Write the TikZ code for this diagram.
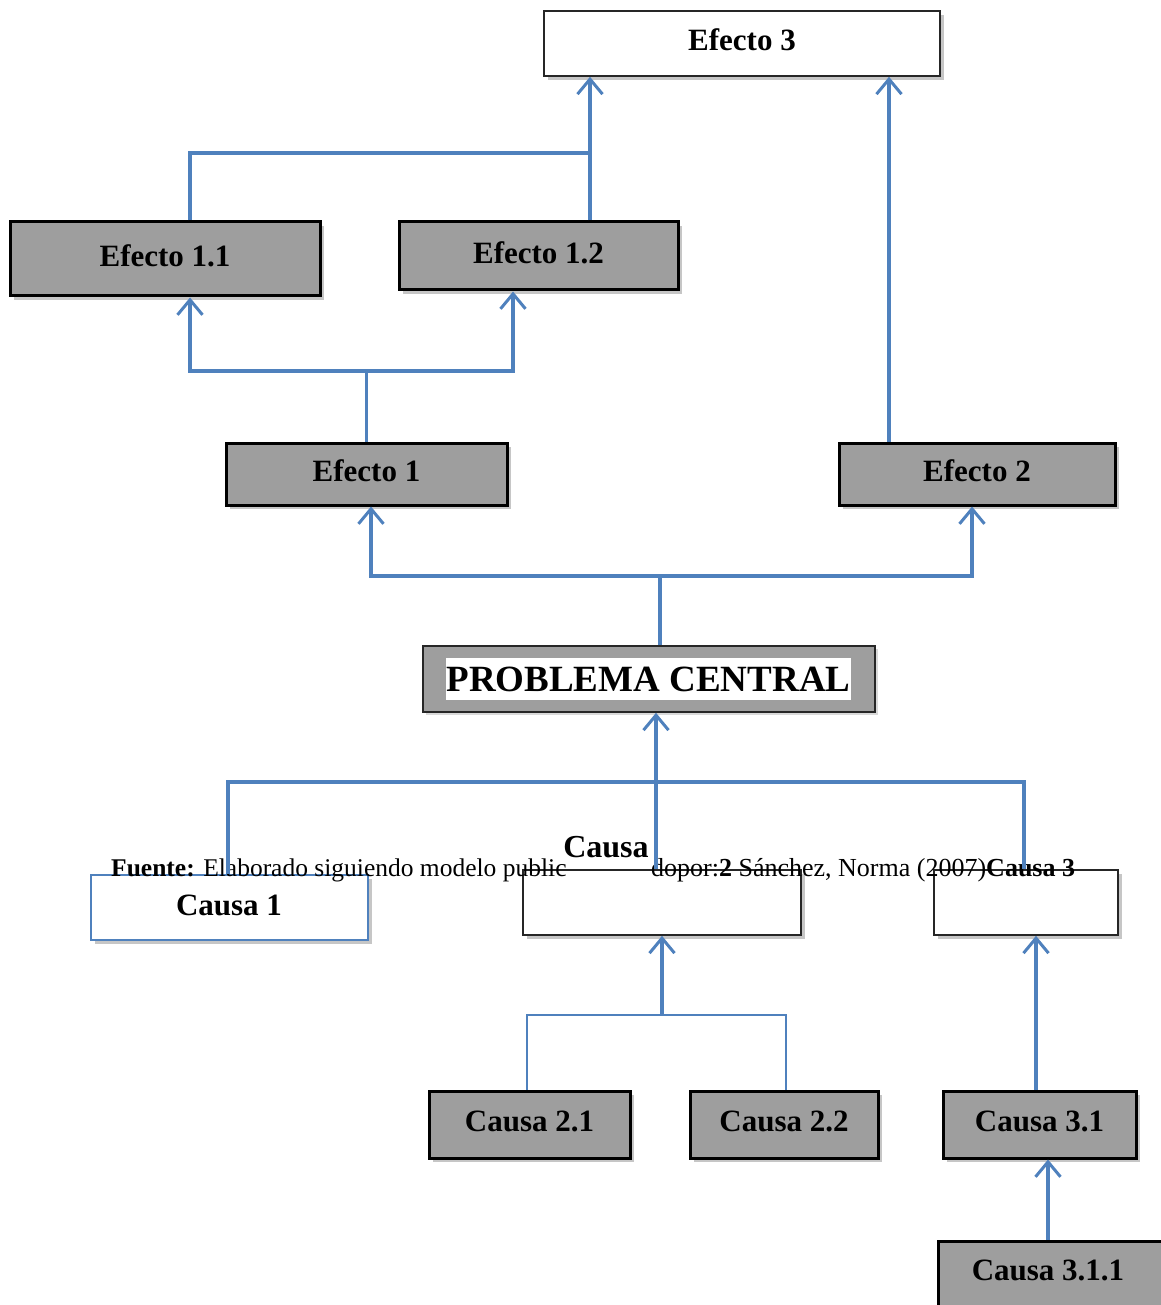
\documentclass[tikz,border=0pt]{standalone}
\usepackage{fontspec}
\setmainfont{Liberation Serif}
\usetikzlibrary{shadows,arrows.meta}
\definecolor{linkblue}{RGB}{79,129,189}
\definecolor{boxgray}{RGB}{158,158,158}
\tikzstyle{graybox}=[draw=black,line width=3pt,fill=boxgray,inner sep=0pt,text depth=7pt,
  drop shadow={shadow xshift=4pt,shadow yshift=-4pt,opacity=.45},
  font=\fontsize{31}{37}\selectfont\bfseries]
\tikzstyle{whitebox}=[draw=black!85,line width=1.6pt,fill=white,inner sep=0pt,text depth=7pt,
  drop shadow={shadow xshift=4pt,shadow yshift=-4pt,opacity=.45},
  font=\fontsize{31}{37}\selectfont\bfseries]

\begin{document}
\begin{tikzpicture}[x=1pt,y=-1pt,>={Straight Barb[length=15pt,width=25pt,line width=3pt]}]
    \tikzstyle{link}=[draw=linkblue,line width=3.5pt]
    \tikzstyle{thinlink}=[draw=linkblue,line width=2.5pt]
    \useasboundingbox (0,0) rectangle (1160,1305);

    % efectos
    \node[whitebox,minimum width=396pt,minimum height=65pt] at (742,43.5) (e3) {Efecto 3};
    \node[graybox,minimum width=310pt,minimum height=74pt] at (165,259) (e11) {Efecto 1.1};
    \node[graybox,minimum width=279pt,minimum height=68pt] at (538.5,256) (e12) {Efecto 1.2};
    \node[graybox,minimum width=281pt,minimum height=62pt] at (366.5,474) (e1) {Efecto 1};
    \node[graybox,minimum width=276pt,minimum height=62pt] at (977,474) (e2) {Efecto 2};

    % problema
    \node[draw=black!85,line width=1.6pt,fill=boxgray,minimum width=452pt,
      minimum height=66pt,drop shadow={shadow xshift=3pt,shadow yshift=-3pt,opacity=.3}]
      at (649,679) (pc) {};
    \node[fill=white,inner xsep=1pt,minimum height=42pt,
      font=\fontsize{37}{44}\selectfont\bfseries] at (648.5,679) (pctext) {PROBLEMA CENTRAL};

    % causas
    \node[whitebox,draw=linkblue,minimum width=277pt,minimum height=65pt] at (229.5,907.5) (c1) {};
    \node[font=\fontsize{31}{37}\selectfont\bfseries] at (229,905) (c1text) {Causa 1};
    \node[whitebox,minimum width=278pt,minimum height=65pt] at (662,902.5) (c2) {};
    \node[whitebox,minimum width=184pt,minimum height=65pt] at (1026,902.5) (c3) {};
    \node[font=\fontsize{32}{38}\selectfont\bfseries] at (606,847) (c2text) {Causa};
    \node[anchor=west,inner sep=0pt,font=\fontsize{25.5}{30}\selectfont] at (111,870) (src1)
      {\textbf{Fuente:} Elaborado siguiendo modelo public};
    \node[anchor=west,inner sep=0pt,font=\fontsize{26}{30}\selectfont] at (651,870) (src2)
      {dopor:\textbf{2} Sánchez, Norma (2007)\textbf{Causa 3}};

    \node[graybox,minimum width=201pt,minimum height=67pt] at (529.5,1124.5) (c21) {Causa 2.1};
    \node[graybox,minimum width=188pt,minimum height=67pt] at (784,1124.5) (c22) {Causa 2.2};
    \node[graybox,minimum width=193pt,minimum height=67pt] at (1039.5,1124.5) (c31) {Causa 3.1};
    \node[graybox,minimum width=232pt,minimum height=72pt] at (1054,1277) (c311) {};
    \node[font=\fontsize{31}{37}\selectfont\bfseries] at (1048,1270) (c311text) {Causa 3.1.1};

    % uniones
    \coordinate (j3a) at (190,153);
    \coordinate (j3b) at (590,153);
    \coordinate (j2) at (889,300);
    \coordinate (j1a) at (190,371);
    \coordinate (j1b) at (513,371);
    \coordinate (j0a) at (371,576);
    \coordinate (j0b) at (972,576);
    \coordinate (j0) at (660,576);
    \coordinate (k0a) at (228,782);
    \coordinate (k0b) at (1024,782);
    \coordinate (k0) at (656,782);
    \coordinate (k1a) at (527,1015);
    \coordinate (k1b) at (786,1015);
    \coordinate (k1) at (662,1015);
    \coordinate (k2) at (1036,1000);
    \coordinate (k3) at (1048,1200);

    \draw[link] (e11.north -| j3a) -- (j3a) -- (j3b);
    \draw[link,->] (e12.north -| j3b) -- (e3.south -| j3b);
    \draw[link,->] (e2.north -| j2) -- (e3.south -| j2);
    \draw[thinlink] (e1.north) -- (e1.north |- j1a);
    \draw[link,<->] (e11.south -| j1a) -- (j1a) -- (j1b) -- (e12.south -| j1b);
    \draw[link] (pc.north -| j0) -- (j0);
    \draw[link,<->] (e1.south -| j0a) -- (j0a) -- (j0b) -- (e2.south -| j0b);
    \draw[link] (c1.north -| k0a) -- (k0a) -- (k0b) -- (c3.north -| k0b);
    \draw[link,->] (c2.north -| k0) -- (pc.south -| k0);
    \draw[thinlink] (c21.north -| k1a) -- (k1a) -- (k1b) -- (c22.north -| k1b);
    \draw[link,->] (k1) -- (c2.south -| k1);
    \draw[link,->] (c31.north -| k2) -- (c3.south -| k2);
    \draw[link,->] (c311.north -| k3) -- (c31.south -| k3);
\end{tikzpicture}
\end{document}
